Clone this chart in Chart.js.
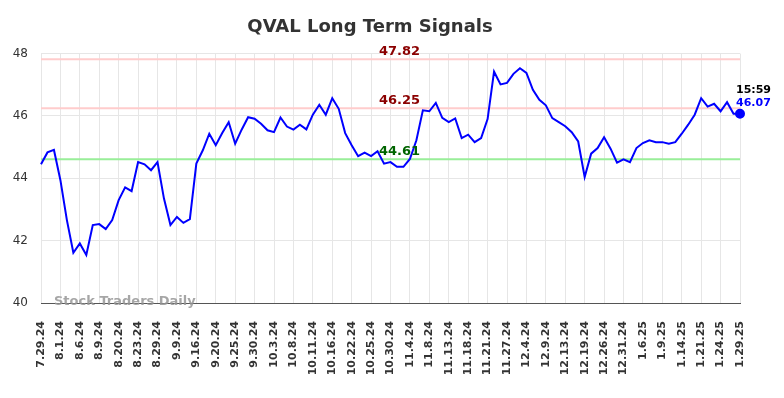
<!DOCTYPE html>
<html>
<head>
<meta charset="utf-8">
<script src="https://cdn.jsdelivr.net/npm/chart.js@4"></script>
<style>
    html, body { margin: 0; padding: 0; background: #fff; }
    #wrap { width: 784px; height: 398px; }
</style>
</head>
<body>
<div id="wrap"><canvas id="chart" width="784" height="398"></canvas></div>
<script>
const dates = [
    '7.29.24', '7.30.24', '7.31.24', '8.1.24', '8.2.24', '8.5.24', '8.6.24', '8.7.24', '8.8.24', '8.9.24',
    '8.16.24', '8.19.24', '8.20.24', '8.21.24', '8.22.24', '8.23.24', '8.26.24', '8.27.24', '8.29.24', '8.30.24',
    '9.6.24', '9.9.24', '9.11.24', '9.13.24', '9.16.24', '9.17.24', '9.19.24', '9.20.24', '9.23.24', '9.24.24',
    '9.25.24', '9.26.24', '9.27.24', '9.30.24', '10.1.24', '10.2.24', '10.3.24', '10.4.24', '10.7.24', '10.8.24',
    '10.9.24', '10.10.24', '10.11.24', '10.14.24', '10.15.24', '10.16.24', '10.17.24', '10.21.24', '10.22.24', '10.23.24',
    '10.24.24', '10.25.24', '10.28.24', '10.29.24', '10.30.24', '10.31.24', '11.1.24', '11.4.24', '11.5.24', '11.7.24',
    '11.8.24', '11.11.24', '11.12.24', '11.13.24', '11.14.24', '11.15.24', '11.18.24', '11.19.24', '11.20.24', '11.21.24',
    '11.22.24', '11.26.24', '11.27.24', '11.29.24', '12.3.24', '12.4.24', '12.5.24', '12.6.24', '12.9.24', '12.10.24',
    '12.12.24', '12.13.24', '12.16.24', '12.18.24', '12.19.24', '12.20.24', '12.24.24', '12.26.24', '12.27.24', '12.30.24',
    '12.31.24', '1.2.25', '1.3.25', '1.6.25', '1.7.25', '1.8.25', '1.9.25', '1.10.25', '1.13.25', '1.14.25',
    '1.15.25', '1.17.25', '1.21.25', '1.22.25', '1.23.25', '1.24.25', '1.27.25', '1.28.25', '1.29.25'
];

const prices = [
    44.45, 44.83, 44.91, 43.94, 42.66, 41.61, 41.91, 41.54, 42.50, 42.53,
    42.37, 42.66, 43.30, 43.71, 43.59, 44.52, 44.45, 44.26, 44.52, 43.35,
    42.50, 42.76, 42.57, 42.69, 44.47, 44.90, 45.43, 45.06, 45.45, 45.80,
    45.11, 45.56, 45.96, 45.91, 45.75, 45.54, 45.48, 45.95, 45.66, 45.56,
    45.72, 45.57, 46.04, 46.36, 46.04, 46.57, 46.23, 45.45, 45.06, 44.71,
    44.82, 44.71, 44.87, 44.47, 44.52, 44.37, 44.37, 44.62, 45.22, 46.18,
    46.15, 46.42, 45.94, 45.80, 45.92, 45.29, 45.40, 45.16, 45.29, 45.90,
    47.42, 47.01, 47.06, 47.35, 47.53, 47.38, 46.84, 46.52, 46.34, 45.93,
    45.80, 45.67, 45.48, 45.18, 44.04, 44.79, 44.97, 45.32, 44.95, 44.50,
    44.61, 44.52, 44.97, 45.13, 45.22, 45.16, 45.16, 45.11, 45.16, 45.43,
    45.72, 46.04, 46.57, 46.30, 46.39, 46.15, 46.44, 46.07, 46.07
];

const yTicks = [40, 42, 44, 46, 48];

// signal levels
const levels = [47.82, 46.25, 44.61];
const levelColors = ['#ffcccc', '#ffcccc', '#99ee99'];
const levelTextColors = ['#8b0000', '#8b0000', '#006400'];

const lastTime = '15:59';
const lastPrice = 46.07;
const watermark = 'Stock Traders Daily';

const FONT = '"DejaVu Sans", Verdana, sans-serif';

const overlay = {
    id: 'overlay',
    beforeDatasetsDraw(chart) {
        const ctx = chart.ctx;
        const area = chart.chartArea;
        const y = chart.scales.y;
        ctx.save();
        levels.forEach((lv, i) => {
            const py = y.getPixelForValue(lv);
            ctx.strokeStyle = levelColors[i];
            ctx.lineWidth = 2;
            ctx.beginPath();
            ctx.moveTo(area.left, py);
            ctx.lineTo(area.right, py);
            ctx.stroke();
        });
        ctx.restore();
    },
    afterDatasetsDraw(chart) {
        const ctx = chart.ctx;
        const area = chart.chartArea;
        const y = chart.scales.y;
        ctx.save();
        ctx.font = 'bold 13px ' + FONT;
        ctx.textAlign = 'center';
        ctx.textBaseline = 'bottom';
        const cx = (area.left + area.right) / 2 + 9;
        levels.forEach((lv, i) => {
            ctx.fillStyle = levelTextColors[i];
            ctx.fillText(lv.toFixed(2), cx, y.getPixelForValue(lv) - 1);
        });

        // last value label
        const meta = chart.getDatasetMeta(0);
        const last = meta.data[meta.data.length - 1];
        ctx.textAlign = 'left';
        ctx.textBaseline = 'middle';
        ctx.font = 'bold 11px ' + FONT;
        ctx.fillStyle = '#000';
        ctx.fillText(lastTime, last.x - 4, last.y - 24);
        ctx.fillStyle = '#0000ff';
        ctx.fillText(lastPrice.toFixed(2), last.x - 4, last.y - 11);

        // watermark
        ctx.font = 'bold 13px ' + FONT;
        ctx.fillStyle = 'rgba(150,150,150,0.85)';
        ctx.textAlign = 'left';
        ctx.fillText(watermark, area.left + 13, area.bottom - 1);
        ctx.restore();
    }
};

new Chart(document.getElementById('chart'), {
    type: 'line',
    data: {
        labels: dates,
        datasets: [{
            data: prices,
            borderColor: '#0000ff',
            borderWidth: 2,
            tension: 0,
            fill: false,
            pointRadius: prices.map((p, i) => i === prices.length - 1 ? 4 : 0),
            pointBackgroundColor: '#0000ff',
            pointBorderColor: '#0000ff'
        }]
    },
    options: {
        responsive: false,
        animation: false,
        devicePixelRatio: 1,
        layout: { padding: { left: 0, right: 44, top: 0, bottom: 0 } },
        plugins: {
            legend: { display: false },
            tooltip: { enabled: false },
            title: {
                display: true,
                text: 'QVAL Long Term Signals',
                color: '#333',
                font: { family: FONT, size: 18, weight: 'bold' },
                padding: { top: 17, bottom: 15 }
            }
        },
        scales: {
            x: {
                offset: false,
                grid: {
                    drawTicks: false,
                    color: ctx => (ctx.index % 3 === 0 ? '#e6e6e6' : 'rgba(0,0,0,0)')
                },
                border: { display: true, color: '#555', width: 1 },
                ticks: {
                    autoSkip: false,
                    minRotation: 90,
                    maxRotation: 90,
                    padding: 18,
                    color: '#333',
                    font: { family: FONT, size: 11, weight: 'bold' },
                    callback: function (v, i) { return i % 3 === 0 ? dates[i] : ''; }
                },
                afterFit: s => { s.height = 95; }
            },
            y: {
                min: yTicks[0],
                max: yTicks[yTicks.length - 1],
                afterBuildTicks: s => { s.ticks = yTicks.map(v => ({ value: v })); },
                grid: { drawTicks: false, color: '#e6e6e6' },
                border: { display: false },
                ticks: {
                    padding: 13,
                    color: '#333',
                    font: { family: FONT, size: 12 }
                },
                afterFit: s => { s.width = 41; }
            }
        }
    },
    plugins: [overlay]
});
</script>
</body>
</html>
